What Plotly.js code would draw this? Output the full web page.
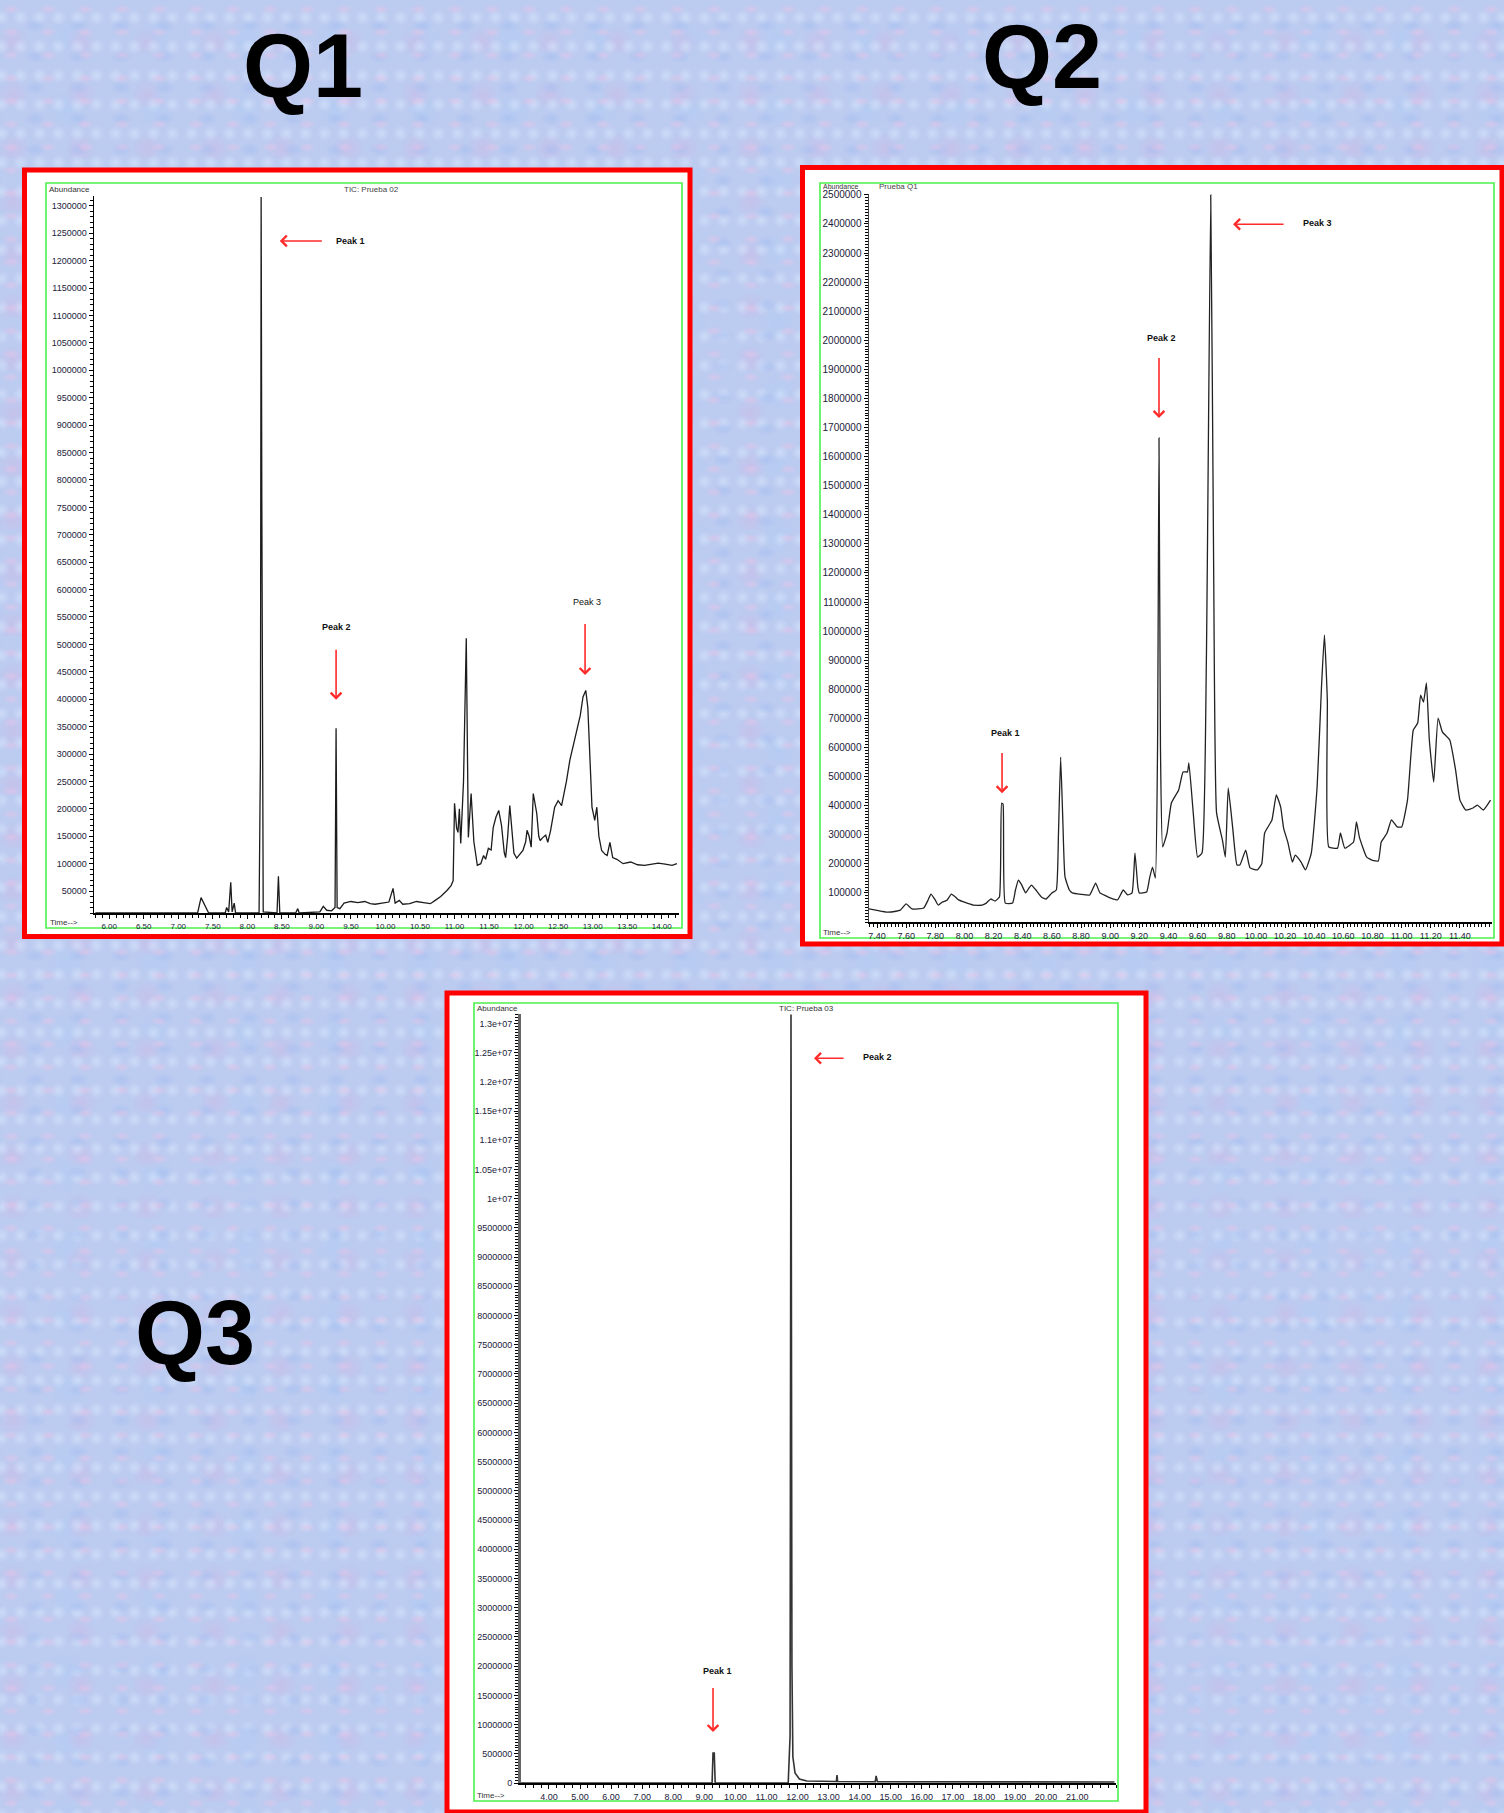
<!DOCTYPE html>
<html><head><meta charset="utf-8">
<script src="https://cdn.plot.ly/plotly-3.0.1.min.js"></script>
<style>
html,body{margin:0;padding:0;}
body{width:1504px;height:1813px;overflow:hidden;
background:
 radial-gradient(ellipse at 30% 40%, rgba(232,196,232,0.55) 0, rgba(232,196,232,0) 9px) 0 0/37px 23px,
 radial-gradient(ellipse at 70% 60%, rgba(160,188,240,0.5) 0, rgba(160,188,240,0) 11px) 5px 7px/43px 31px,
 radial-gradient(circle at 50% 50%, rgba(215,230,252,0.6) 0, rgba(215,230,252,0) 8px) 11px 3px/19px 29px,
 radial-gradient(circle at 20% 80%, rgba(210,180,228,0.4) 0, rgba(210,180,228,0) 16px) 0 0/67px 53px,
 radial-gradient(circle at 60% 30%, rgba(175,205,245,0.45) 0, rgba(175,205,245,0) 20px) 13px 17px/89px 71px,
 #bccbf0;}
#chart{width:1504px;height:1813px;}
</style></head>
<body><div id="chart"></div>
<script>
// ---------- Q1 (TIC: Prueba 02) ----------
const q1Time = [5.80,7.28,7.33,7.38,7.44,7.68,7.70,7.73,7.76,7.78,7.81,7.83,8.17,8.19,8.20,8.21,8.23,8.43,8.45,8.47,8.70,8.73,8.75,9.05,9.10,9.15,9.22,9.27,9.285,9.30,9.34,9.40,9.50,9.60,9.70,9.78,9.85,9.95,10.05,10.11,10.14,10.20,10.25,10.35,10.45,10.55,10.65,10.72,10.80,10.89,10.95,10.98,11.00,11.03,11.05,11.07,11.09,11.13,11.17,11.20,11.24,11.28,11.30,11.33,11.38,11.42,11.45,11.49,11.53,11.56,11.60,11.64,11.68,11.72,11.74,11.77,11.80,11.83,11.86,11.90,11.95,11.99,12.03,12.05,12.08,12.11,12.14,12.16,12.19,12.22,12.24,12.28,12.32,12.35,12.39,12.45,12.50,12.55,12.62,12.67,12.72,12.77,12.82,12.86,12.90,12.93,12.96,12.99,13.03,13.06,13.09,13.13,13.18,13.21,13.25,13.29,13.35,13.44,13.55,13.65,13.75,13.85,13.95,14.05,14.15,14.22];
const q1Abund = [10000,10000,38000,25000,10000,10000,20000,12000,66000,12000,28000,10000,10000,300000,1316000,760000,12000,10000,77000,10000,10000,18000,10000,12000,22000,15000,14000,20000,347000,20000,18000,28000,31000,29000,31000,27000,26000,28000,30000,55000,28000,33000,26000,27000,31000,29000,27000,33000,40000,51000,60000,69000,210000,165000,157000,200000,137000,250000,511000,148000,228000,140000,119000,97000,100000,115000,108000,128000,125000,166000,185000,197000,170000,120000,111000,150000,206000,160000,119000,110000,118000,124000,140000,161000,150000,130000,228000,212000,192000,150000,142000,148000,152000,139000,160000,203000,215000,206000,250000,289000,315000,343000,370000,404000,416000,385000,300000,203000,179000,203000,150000,124000,117000,115000,139000,111000,108000,100000,103000,98000,97000,99000,101000,99000,97000,100000];
const q1XTicks = [6.0,6.5,7.0,7.5,8.0,8.5,9.0,9.5,10.0,10.5,11.0,11.5,12.0,12.5,13.0,13.5,14.0];
const q1YTicks = [50000,100000,150000,200000,250000,300000,350000,400000,450000,500000,550000,600000,650000,700000,750000,800000,850000,900000,950000,1000000,1050000,1100000,1150000,1200000,1250000,1300000];

// ---------- Q2 (Prueba Q1) ----------
const q2Time = [7.345,7.40,7.47,7.53,7.56,7.60,7.64,7.72,7.75,7.77,7.80,7.82,7.85,7.88,7.91,7.94,7.96,8.00,8.06,8.12,8.15,8.18,8.21,8.24,8.255,8.265,8.28,8.33,8.35,8.37,8.39,8.42,8.44,8.46,8.49,8.53,8.56,8.60,8.63,8.645,8.66,8.675,8.69,8.72,8.74,8.80,8.86,8.90,8.93,8.97,9.00,9.05,9.09,9.12,9.15,9.17,9.19,9.20,9.25,9.27,9.29,9.31,9.325,9.335,9.345,9.36,9.39,9.42,9.47,9.50,9.53,9.54,9.57,9.60,9.63,9.66,9.69,9.71,9.73,9.77,9.79,9.81,9.84,9.87,9.89,9.93,9.96,10.01,10.04,10.06,10.11,10.14,10.17,10.19,10.22,10.25,10.27,10.31,10.34,10.38,10.42,10.45,10.47,10.49,10.50,10.56,10.58,10.61,10.67,10.69,10.71,10.76,10.80,10.84,10.86,10.90,10.93,10.97,11.00,11.04,11.08,11.11,11.13,11.15,11.17,11.19,11.22,11.25,11.28,11.33,11.37,11.40,11.44,11.49,11.52,11.56,11.61];
const q2Abund = [45000,40000,34000,37000,41000,62000,45000,48000,75000,96000,75000,58000,69000,75000,96000,85000,76000,68000,58000,58000,65000,79000,72000,86000,409000,405000,65000,65000,110000,144000,130000,100000,115000,127000,110000,85000,79000,100000,110000,300000,567000,350000,155000,110000,100000,95000,93000,134000,100000,90000,83000,76000,110000,93000,100000,237000,120000,100000,103000,150000,189000,151000,600000,1664000,600000,258000,306000,409000,454000,516000,516000,547000,375000,223000,237000,900000,2500000,1220000,375000,282000,223000,461000,327000,196000,196000,247000,186000,179000,200000,306000,351000,437000,395000,323000,272000,206000,230000,206000,179000,237000,464000,808000,987000,763000,258000,254000,306000,254000,275000,344000,292000,223000,212000,210000,275000,306000,351000,327000,327000,419000,660000,684000,780000,756000,822000,626000,481000,701000,653000,626000,523000,419000,385000,392000,402000,385000,419000];
const q2XTicks = [7.4,7.6,7.8,8.0,8.2,8.4,8.6,8.8,9.0,9.2,9.4,9.6,9.8,10.0,10.2,10.4,10.6,10.8,11.0,11.2,11.4];
const q2YTicks = [100000,200000,300000,400000,500000,600000,700000,800000,900000,1000000,1100000,1200000,1300000,1400000,1500000,1600000,1700000,1800000,1900000,2000000,2100000,2200000,2300000,2400000,2500000];

// ---------- Q3 (TIC: Prueba 03) ----------
const q3Time = [3.10,9.25,9.28,9.32,9.35,11.70,11.76,11.79,11.82,11.85,11.92,12.06,12.30,13.00,13.25,13.27,13.29,14.50,14.53,14.57,16.00,18.00,20.00,22.20];
const q3Abund = [0,0,513000,513000,0,0,800000,13150000,2000000,445000,171000,68000,34000,25000,25000,137000,25000,22000,120000,22000,20000,22000,20000,18000];
const q3XTicks = [4,5,6,7,8,9,10,11,12,13,14,15,16,17,18,19,20,21];
const q3YTicks = [0,500000,1000000,1500000,2000000,2500000,3000000,3500000,4000000,4500000,5000000,5500000,6000000,6500000,7000000,7500000,8000000,8500000,9000000,9500000,10000000,10500000,11000000,11500000,12000000,12500000,13000000];
const q3YLabels = ['0','500000','1000000','1500000','2000000','2500000','3000000','3500000','4000000','4500000','5000000','5500000','6000000','6500000','7000000','7500000','8000000','8500000','9000000','9500000','1e+07','1.05e+07','1.1e+07','1.15e+07','1.2e+07','1.25e+07','1.3e+07'];

const panelTitles = ['Q1','Q2','Q3'];
const peakLabels = ['Peak 1','Peak 2','Peak 3'];

// ---------- helpers ----------
const W = 1504, H = 1813;
const px = x => x / W;
const py = y => 1 - y / H;
const FONT = 'Liberation Sans, Arial, sans-serif';

function axisX(range, domain, ticks, anchor, fsize, minorD) {
  return {range: range, domain: domain, anchor: anchor, tickmode: 'array', tickvals: ticks,
    ticktext: ticks.map(v => v.toFixed(2)), showgrid: false, zeroline: false, showline: true,
    linecolor: '#000', linewidth: 2, ticks: 'outside', ticklen: 4, tickcolor: '#000', tickwidth: 1,
    tickfont: {family: FONT, size: fsize, color: '#22223a'}, fixedrange: true,
    minor: {dtick: minorD, ticks: 'outside', ticklen: 3, tickcolor: '#000', tickwidth: 1, showgrid: false}};
}
function axisY(range, domain, ticks, labels, anchor, fsize, minorD, lw, lc) {
  return {range: range, domain: domain, anchor: anchor, tickmode: 'array', tickvals: ticks,
    ticktext: labels, showgrid: false, zeroline: false, showline: true,
    linecolor: lc, linewidth: lw, ticks: 'outside', ticklen: 4, tickcolor: '#000', tickwidth: 1,
    tickfont: {family: FONT, size: fsize, color: '#22223a'}, fixedrange: true,
    minor: {dtick: minorD, ticks: 'outside', ticklen: 3, tickcolor: '#000', tickwidth: 1, showgrid: false}};
}

const traces = [
  {type: 'scatter', mode: 'lines', x: q1Time, y: q1Abund, xaxis: 'x', yaxis: 'y',
   line: {color: '#1c1c1c', width: 1.3}, hoverinfo: 'skip'},
  {type: 'scatter', mode: 'lines', x: q2Time, y: q2Abund, xaxis: 'x2', yaxis: 'y2',
   line: {color: '#222', width: 1.3, shape: 'spline', smoothing: 0.4}, hoverinfo: 'skip'},
  {type: 'scatter', mode: 'lines', x: q3Time, y: q3Abund, xaxis: 'x3', yaxis: 'y3',
   line: {color: '#333', width: 1.6}, hoverinfo: 'skip'}
];

function rect(x0, y0, x1, y1, color, w, fill) {
  return {type: 'rect', xref: 'paper', yref: 'paper', x0: px(x0), x1: px(x1), y0: py(y1), y1: py(y0),
    line: {color: color, width: w}, fillcolor: fill, layer: 'below'};
}
const shapes = [
  rect(24.5, 170, 690, 936.5, '#ff0000', 5, '#ffffff'),
  rect(802.5, 167.5, 1502, 944, '#ff0000', 5, '#ffffff'),
  rect(447, 993, 1146, 1812, '#ff0000', 5, '#ffffff'),
  rect(46, 183, 682, 928, '#4cf24c', 1.6, 'rgba(0,0,0,0)'),
  rect(820, 183, 1494, 938, '#4cf24c', 1.6, 'rgba(0,0,0,0)'),
  rect(474, 1003, 1118, 1801, '#4cf24c', 1.6, 'rgba(0,0,0,0)')
];

function ptext(text, x, y, anchor, size, color) {
  return {xref: 'paper', yref: 'paper', x: px(x), y: py(y), text: text, showarrow: false,
    xanchor: anchor, yanchor: 'middle', font: {family: FONT, size: size, color: color}};
}
function arrow(xa, ya, x, y, tx, ty) {
  return {xref: xa, yref: ya, axref: xa, ayref: ya, x: x, y: y, ax: tx, ay: ty, text: ' ',
    showarrow: true, arrowhead: 4, arrowsize: 1.3, arrowwidth: 1.6, arrowcolor: '#ff2a2a',
    standoff: 0, startstandoff: 0, font: {size: 1}};
}
function dtext(xa, ya, text, x, y, bold) {
  return {xref: xa, yref: ya, x: x, y: y, text: bold ? '<b>' + text + '</b>' : text, showarrow: false,
    xanchor: 'center', yanchor: 'middle', font: {family: FONT, size: 9, color: '#111'}};
}

const annotations = [
  {xref: 'paper', yref: 'paper', x: px(303), y: py(66), text: '<b>' + panelTitles[0] + '</b>', showarrow: false,
   xanchor: 'center', yanchor: 'middle', font: {family: FONT, size: 90, color: '#000'}},
  {xref: 'paper', yref: 'paper', x: px(1042), y: py(57), text: '<b>' + panelTitles[1] + '</b>', showarrow: false,
   xanchor: 'center', yanchor: 'middle', font: {family: FONT, size: 90, color: '#000'}},
  {xref: 'paper', yref: 'paper', x: px(195), y: py(1333), text: '<b>' + panelTitles[2] + '</b>', showarrow: false,
   xanchor: 'center', yanchor: 'middle', font: {family: FONT, size: 90, color: '#000'}},
  ptext('Abundance', 47, 189, 'left', 8, '#333'),
  ptext('TIC: Prueba 02', 371, 189, 'center', 8, '#444'),
  ptext('Time-->', 48, 923, 'left', 8, '#333'),
  ptext('Abundance', 821, 186, 'left', 7, '#333'),
  ptext('Prueba Q1', 877, 187, 'left', 8, '#444'),
  ptext('Time-->', 821, 932, 'left', 8, '#333'),
  ptext('Abundance', 475, 1008, 'left', 8, '#333'),
  ptext('TIC: Prueba 03', 806, 1008, 'center', 8, '#333'),
  ptext('Time-->', 475, 1795, 'left', 8, '#333'),
  dtext('x', 'y', peakLabels[0], 9.50, 1236000, true),
  arrow('x', 'y', 8.47, 1236000, 9.10, 1236000),
  dtext('x', 'y', peakLabels[1], 9.285, 532000, true),
  arrow('x', 'y', 9.285, 399000, 9.285, 494000),
  dtext('x', 'y', peakLabels[2], 12.92, 577000, false),
  arrow('x', 'y', 12.89, 444000, 12.89, 541000),
  dtext('x2', 'y2', peakLabels[0], 8.285, 650000, true),
  arrow('x2', 'y2', 8.258, 443000, 8.258, 588000),
  dtext('x2', 'y2', peakLabels[1], 9.35, 2008000, true),
  arrow('x2', 'y2', 9.335, 1733000, 9.335, 1946000),
  dtext('x2', 'y2', peakLabels[2], 10.42, 2403000, true),
  arrow('x2', 'y2', 9.843, 2399000, 10.20, 2399000),
  dtext('x3', 'y3', peakLabels[0], 9.41, 1916000, true),
  arrow('x3', 'y3', 9.28, 872000, 9.28, 1659000),
  dtext('x3', 'y3', peakLabels[1], 14.56, 12419000, true),
  arrow('x3', 'y3', 12.53, 12402000, 13.53, 12402000)
];

const layout = {
  width: W, height: H, autosize: false,
  margin: {l: 0, r: 0, t: 0, b: 0, pad: 0},
  paper_bgcolor: 'rgba(0,0,0,0)', plot_bgcolor: 'rgba(0,0,0,0)',
  showlegend: false,
  xaxis: axisX([5.78, 14.25], [px(94), px(679)], q1XTicks, 'y', 8, 0.1),
  yaxis: axisY([10000, 1318000], [py(913), py(196)], q1YTicks, q1YTicks.map(String), 'x', 9, 10000, 1.5, '#000'),
  xaxis2: axisX([7.345, 11.62], [px(869), px(1492)], q2XTicks, 'y2', 9, 0.025),
  yaxis2: axisY([0, 2503000], [py(922), py(194)], q2YTicks, q2YTicks.map(String), 'x2', 10, 10000, 1.5, '#444'),
  xaxis3: axisX([3.10, 22.25], [px(521), px(1116)], q3XTicks, 'y3', 9, 0.25),
  yaxis3: axisY([0, 13160000], [py(1783), py(1014)], q3YTicks, q3YLabels, 'x3', 9, 50000, 3, '#666'),
  shapes: shapes,
  annotations: annotations
};

Plotly.newPlot('chart', traces, layout, {displayModeBar: false, staticPlot: true});
</script>
</body></html>
